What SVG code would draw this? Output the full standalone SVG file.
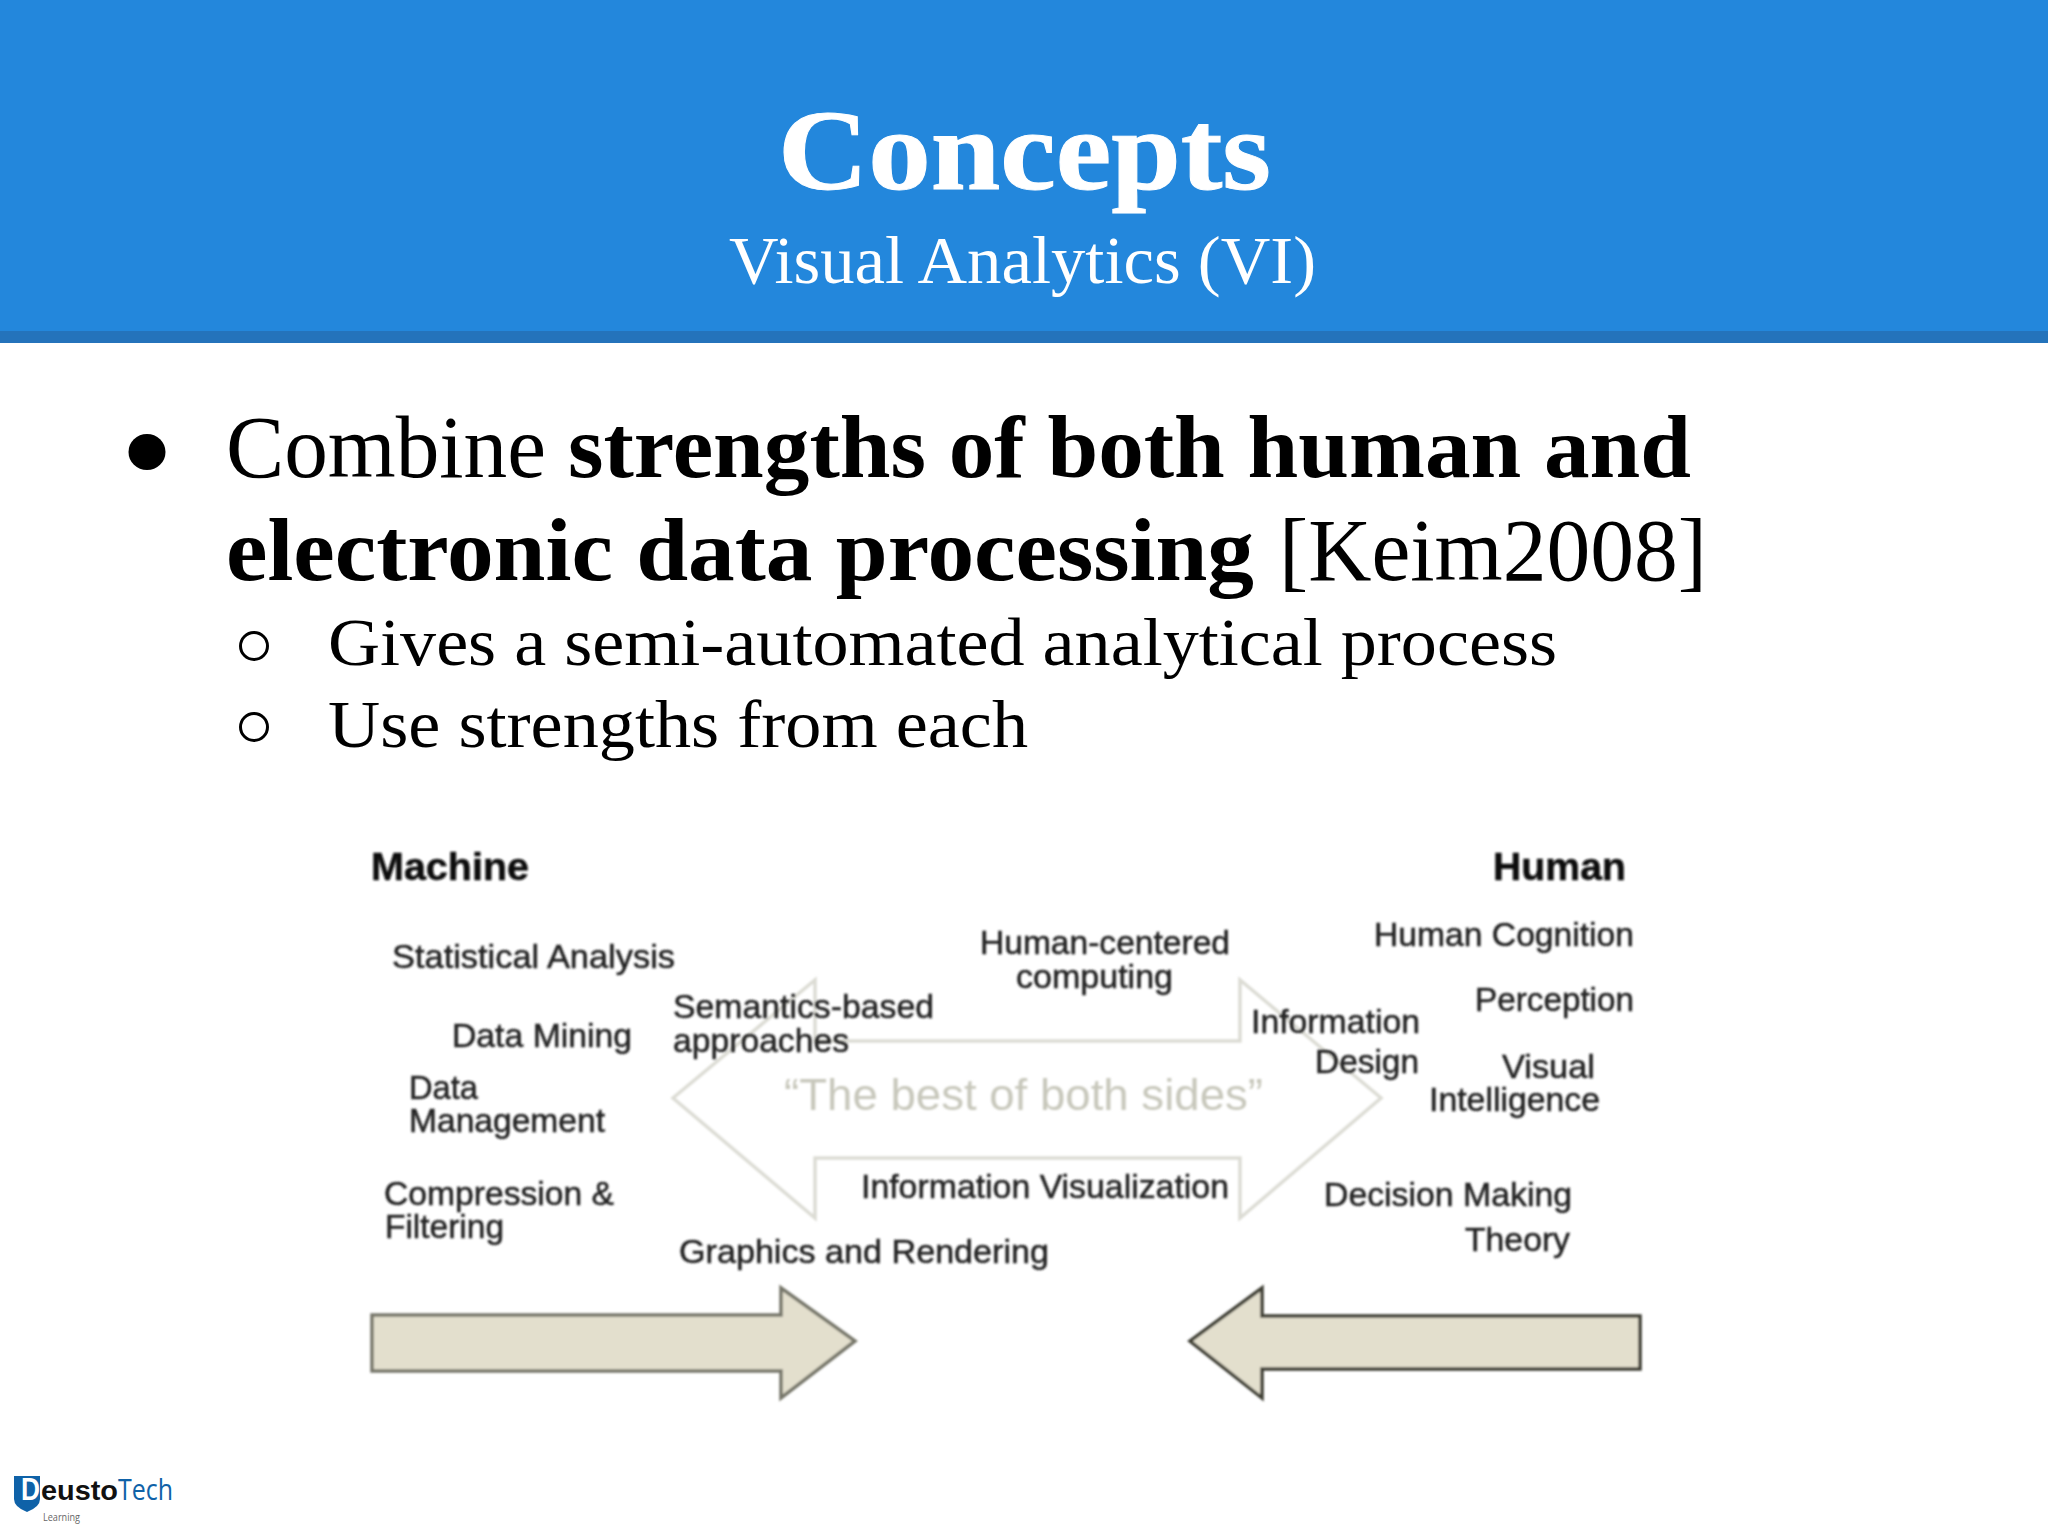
<svg xmlns="http://www.w3.org/2000/svg" width="2048" height="1536" viewBox="0 0 2048 1536">
<defs>
<style>
.s{font-family:"Liberation Serif",serif}
.d{font-family:"Liberation Sans",Arial,sans-serif;font-size:34px;fill:#222;stroke:#222;stroke-width:0.5px}
.b{font-weight:700}
.h{font-size:38px;fill:#111;stroke:#111}
.ar{stroke-linejoin:miter;fill:#e3dfcd;stroke-width:3.5}
</style>
<filter id="blur" x="-5%" y="-5%" width="110%" height="110%"><feGaussianBlur stdDeviation="0.9"/></filter>
</defs>
<rect width="2048" height="1536" fill="#ffffff"/>
<g id="header">
<rect width="2048" height="331" fill="#2387dc"/>
<rect y="331" width="2048" height="12" fill="#2473bb"/>
<text class="s b" x="778" y="189" font-size="114" fill="#fff" stroke="#fff" stroke-width="1" textLength="493" lengthAdjust="spacingAndGlyphs">Concepts</text>
<text class="s" x="729" y="283" font-size="68" fill="#fff" textLength="587" lengthAdjust="spacingAndGlyphs">Visual Analytics (VI)</text>
</g>
<g id="bullets">
<ellipse cx="147" cy="452" rx="18.5" ry="18" fill="#000"/>
<text class="s" x="226" y="477" font-size="88" textLength="320" lengthAdjust="spacingAndGlyphs">Combine</text>
<text class="s b" x="568" y="477" font-size="88" textLength="1123" lengthAdjust="spacingAndGlyphs">strengths of both human and</text>
<text class="s b" x="226" y="580" font-size="88" textLength="1028" lengthAdjust="spacingAndGlyphs">electronic data processing</text>
<text class="s" x="1279" y="580" font-size="88" textLength="428" lengthAdjust="spacingAndGlyphs">[Keim2008]</text>
<ellipse cx="254" cy="646" rx="13.5" ry="13.5" fill="none" stroke="#000" stroke-width="3"/>
<text class="s" x="328" y="665" font-size="68" textLength="1229" lengthAdjust="spacingAndGlyphs">Gives a semi-automated analytical process</text>
<ellipse cx="254" cy="727" rx="13.5" ry="13.5" fill="none" stroke="#000" stroke-width="3"/>
<text class="s" x="328" y="747" font-size="68" textLength="700" lengthAdjust="spacingAndGlyphs">Use strengths from each</text>
</g>
<g id="connectors" filter="url(#blur)">
<path id="best-arrow" d="M673 1098L815 980V1041H1240V980L1381 1098L1240 1218V1158H815V1218Z" fill="#fff" stroke="#dcdcd4" stroke-width="3.5"/>
<path id="machine-arrow" class="ar" d="M372 1315H781V1288L855 1341L781 1398V1371H372Z" stroke="#77776b"/>
<path id="human-arrow" class="ar" d="M1640 1316H1262V1288L1190 1341L1262 1398V1369H1640Z" stroke="#3f3f36"/>
</g>
<g id="machine" filter="url(#blur)">
<text class="d b h" x="371" y="880" textLength="158" lengthAdjust="spacingAndGlyphs">Machine</text>
<text class="d" x="392" y="968" textLength="283" lengthAdjust="spacingAndGlyphs">Statistical Analysis</text>
<text class="d" x="452" y="1047" textLength="180" lengthAdjust="spacingAndGlyphs">Data Mining</text>
<text class="d" x="409" y="1099" textLength="69" lengthAdjust="spacingAndGlyphs">Data</text>
<text class="d" x="409" y="1132" textLength="196" lengthAdjust="spacingAndGlyphs">Management</text>
<text class="d" x="384" y="1205" textLength="230" lengthAdjust="spacingAndGlyphs">Compression &amp;</text>
<text class="d" x="385" y="1238" textLength="119" lengthAdjust="spacingAndGlyphs">Filtering</text>
</g>
<g id="middle" filter="url(#blur)">
<text class="d" x="673" y="1018" textLength="261" lengthAdjust="spacingAndGlyphs">Semantics-based</text>
<text class="d" x="673" y="1052" textLength="176" lengthAdjust="spacingAndGlyphs">approaches</text>
<text class="d" x="980" y="954" textLength="250" lengthAdjust="spacingAndGlyphs">Human-centered</text>
<text class="d" x="1016" y="988" textLength="157" lengthAdjust="spacingAndGlyphs">computing</text>
<text class="d" x="1251" y="1033" textLength="169" lengthAdjust="spacingAndGlyphs">Information</text>
<text class="d" x="1315" y="1073" textLength="104" lengthAdjust="spacingAndGlyphs">Design</text>
<text class="d" x="861" y="1198" textLength="368" lengthAdjust="spacingAndGlyphs">Information Visualization</text>
<text class="d" x="679" y="1263" textLength="370" lengthAdjust="spacingAndGlyphs">Graphics and Rendering</text>
<text x="784" y="1110" font-family="Liberation Sans,sans-serif" font-size="44" fill="#c8c8bc" textLength="479" lengthAdjust="spacingAndGlyphs">“The best of both sides”</text>
</g>
<g id="human" filter="url(#blur)">
<text class="d b h" x="1493" y="880" textLength="133" lengthAdjust="spacingAndGlyphs">Human</text>
<text class="d" x="1374" y="946" textLength="260" lengthAdjust="spacingAndGlyphs">Human Cognition</text>
<text class="d" x="1475" y="1011" textLength="159" lengthAdjust="spacingAndGlyphs">Perception</text>
<text class="d" x="1502" y="1078" textLength="93" lengthAdjust="spacingAndGlyphs">Visual</text>
<text class="d" x="1429" y="1111" textLength="171" lengthAdjust="spacingAndGlyphs">Intelligence</text>
<text class="d" x="1324" y="1206" textLength="248" lengthAdjust="spacingAndGlyphs">Decision Making</text>
<text class="d" x="1465" y="1251" textLength="105" lengthAdjust="spacingAndGlyphs">Theory</text>
</g>
<g id="logo">
<path d="M14 1476H40V1499Q40 1507 27 1512Q14 1507 14 1499Z" fill="#0f62a8"/>
<text x="21" y="1500" font-family="Liberation Sans,sans-serif" font-weight="700" font-size="32" fill="#fff" textLength="19" lengthAdjust="spacingAndGlyphs">D</text>
<text x="41" y="1500" font-family="Liberation Sans,sans-serif" font-weight="700" font-size="28" fill="#111" textLength="77" lengthAdjust="spacingAndGlyphs">eusto</text>
<text x="118" y="1500" font-family="Open Sans,sans-serif" font-size="29" fill="#0f62a8" textLength="55" lengthAdjust="spacingAndGlyphs">Tech</text>
<text x="43" y="1521" font-family="Open Sans,sans-serif" font-size="11" fill="#666" textLength="37" lengthAdjust="spacingAndGlyphs">Learning</text>
</g>
</svg>
